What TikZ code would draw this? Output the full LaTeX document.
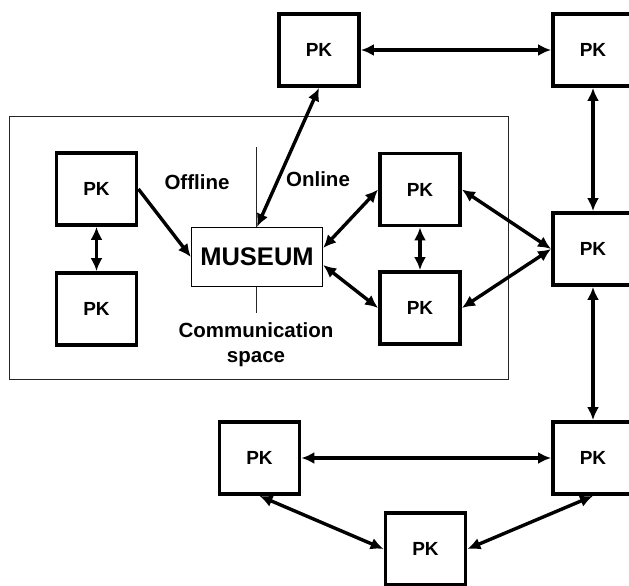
\documentclass[tikz,border=0pt]{standalone}
\usepackage{fontspec}
\setmainfont{Liberation Sans}
\usetikzlibrary{arrows.meta}

\tikzset{
    pkbox/.style={draw, line width=3.8pt, minimum width=80pt, minimum height=72pt, inner sep=0pt, font=\fontsize{19}{21}\selectfont\bfseries},
    museumbox/.style={draw, line width=1.3pt, minimum width=131pt, minimum height=59pt, inner sep=0pt, font=\fontsize{25.5}{28}\selectfont\bfseries},
    tag/.style={font=\fontsize{20.5}{23}\selectfont\bfseries, inner sep=0pt},
    link/.style={line width=3.4pt, {Latex[length=13pt,width=12pt]}-{Latex[length=13pt,width=12pt]}},
    oneway/.style={line width=3.4pt, -{Latex[length=13pt,width=12pt]}},
}

\begin{document}
\begin{tikzpicture}[x=1pt, y=-1pt]
            \useasboundingbox (0,0) rectangle (629,586);

            % Frame
            \draw[line width=1pt, black!85] (9,116) rectangle (508,379);

            % Nodes
            \node[pkbox] (pkA) at (319, 50) {PK};
            \node[pkbox] (pkB) at (593, 50) {PK};
            \node[pkbox] (pkC) at (96.5, 189) {PK};
            \node[pkbox] (pkD) at (96.5, 309) {PK};
            \node[museumbox] (museum) at (257, 257) {MUSEUM};
            \node[pkbox] (pkE) at (420, 189.5) {PK};
            \node[pkbox] (pkF) at (420, 308) {PK};
            \node[pkbox] (pkG) at (593, 249) {PK};
            \node[pkbox] (pkH) at (593, 458) {PK};
            \node[pkbox] (pkI) at (259.5, 458) {PK};
            \node[pkbox] (pkJ) at (425.5, 549) {PK};

            % Labels
            \node[tag] (offline) at (197, 182) {Offline};
            \node[tag] (online) at (318, 179) {Online};
            \node[tag, align=center] (space) at (256, 345) {Communication\\[2pt]space};

            % Divider
            \coordinate (divtop) at (256.5, 147);
            \coordinate (divbot) at (256.5, 313);
            \draw[line width=1pt, black!85] (divtop) -- (divtop |- museum.north);
            \draw[line width=1pt, black!85] (divbot |- museum.south) -- (divbot);

            % Edges
            \draw[link] (pkA) -- (pkB);
            \draw[link] (pkB) -- (pkG);
            \draw[link] (pkA.south) -- (museum.north);
            \draw[oneway] (pkC.east) -- (museum.west);
            \draw[link] (pkC) -- (pkD);
            \draw[link] ([yshift=9pt]museum.east) -- (pkE.west);
            \draw[link] ([yshift=-8pt]museum.east) -- (pkF.west);
            \draw[link] (pkE) -- (pkF);
            \draw[link] (pkE.east) -- (pkG.west);
            \draw[link] (pkF.east) -- (pkG.west);
            \draw[link] (pkG) -- (pkH);
            \draw[link] (pkI) -- (pkH);
            \draw[link] (pkI.south) -- (pkJ.west);
            \draw[link] (pkJ.east) -- (pkH.south);
\end{tikzpicture}
\end{document}
